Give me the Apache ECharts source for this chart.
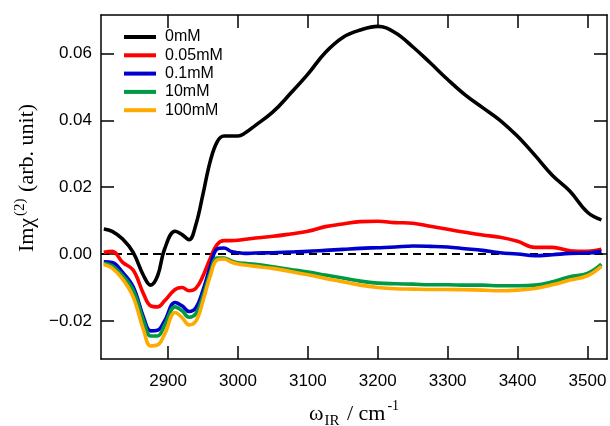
<!DOCTYPE html>
<html>
<head>
<meta charset="utf-8">
<script src="https://cdn.jsdelivr.net/npm/echarts@6/dist/echarts.min.js"></script>
<style>
	html, body { margin: 0; padding: 0; background: #fff; }
	#chart { width: 610px; height: 426px; }
</style>
</head>
<body>
<div id="chart"></div>
<script>
// wavenumber grid (cm-1)
var wn = [2808, 2820, 2835, 2850, 2865, 2875, 2885, 2895, 2910, 2920, 2930, 2940, 2950, 2960, 2970, 2980, 2990, 3000, 3010, 3025,
	3050, 3075, 3100, 3125, 3150, 3175, 3200, 3225, 3250, 3275, 3300, 3325, 3350, 3375, 3400, 3425, 3450, 3475, 3500, 3520];

var c0mM = [0.0075, 0.0068, 0.0045, 0.0005, -0.0065, -0.0093, -0.0065, 0.0015, 0.0068, 0.0058, 0.0043, 0.0090, 0.0180, 0.0275, 0.0335, 0.0353, 0.0353, 0.0353, 0.0362, 0.0385,
	0.0425, 0.0480, 0.0538, 0.0603, 0.0648, 0.0670, 0.0681, 0.0662, 0.0620, 0.0572, 0.0522, 0.0476, 0.0438, 0.0400, 0.0352, 0.0295, 0.0235, 0.0188, 0.0125, 0.0102];
var c005mM = [0.0005, 0.0008, -0.0025, -0.0048, -0.0120, -0.0155, -0.0158, -0.0140, -0.0106, -0.0100, -0.0110, -0.0102, -0.0065, -0.0015, 0.0028, 0.0040, 0.0040, 0.0041, 0.0044, 0.0048,
	0.0053, 0.0060, 0.0068, 0.0082, 0.0090, 0.0097, 0.0098, 0.0094, 0.0092, 0.0083, 0.0074, 0.0065, 0.0057, 0.0050, 0.0038, 0.0020, 0.0020, 0.0010, 0.0008, 0.0014];
var c01mM = [-0.0023, -0.0025, -0.0055, -0.0098, -0.0190, -0.0230, -0.0228, -0.0200, -0.0145, -0.0155, -0.0172, -0.0160, -0.0108, -0.0040, 0.0015, 0.0018, 0.0008, 0.0004, 0.0002, 0.0003,
	0.0004, 0.0006, 0.0008, 0.0011, 0.0014, 0.0017, 0.0019, 0.0021, 0.0024, 0.0023, 0.0021, 0.0016, 0.0011, 0.0004, 0.0000, -0.0005, -0.0002, 0.0002, 0.0003, 0.0008];
var c10mM = [-0.0028, -0.0035, -0.0065, -0.0108, -0.0200, -0.0245, -0.0245, -0.0213, -0.0158, -0.0170, -0.0189, -0.0178, -0.0125, -0.0058, -0.0012, -0.0012, -0.0020, -0.0026, -0.0028, -0.0031,
	-0.0038, -0.0046, -0.0054, -0.0063, -0.0072, -0.0081, -0.0087, -0.0089, -0.0090, -0.0092, -0.0092, -0.0093, -0.0093, -0.0095, -0.0095, -0.0093, -0.0083, -0.0068, -0.0058, -0.0030];
var c100mM = [-0.0031, -0.0042, -0.0075, -0.0128, -0.0228, -0.0275, -0.0272, -0.0240, -0.0175, -0.0190, -0.0212, -0.0200, -0.0140, -0.0068, -0.0018, -0.0015, -0.0024, -0.0030, -0.0033, -0.0037,
	-0.0043, -0.0052, -0.0062, -0.0073, -0.0083, -0.0093, -0.0100, -0.0104, -0.0105, -0.0106, -0.0106, -0.0107, -0.0108, -0.0110, -0.0108, -0.0103, -0.0092, -0.0078, -0.0065, -0.0037];

var seriesNames = ["0mM", "0.05mM", "0.1mM", "10mM", "100mM"];
var seriesColors = ["#000000", "#ff0000", "#0000cc", "#009944", "#ffaa00"];
var xTicks = [2900, 3000, 3100, 3200, 3300, 3400, 3500];
var yTicks = [-0.02, 0.00, 0.02, 0.04, 0.06];

var chart = echarts.init(document.getElementById("chart"));

function pairs(xs, ys) {
	var out = [];
	for(var i = 0; i < xs.length; i++) {
		out.push([xs[i], ys[i]]);
	}
	return out;
}

function makeX(pos, showLabel) {
	return {
		type: "value",
		position: pos,
		min: 2804,
		max: 3528,
		splitLine: { show: false },
		axisLine: { show: true, onZero: false, lineStyle: { color: "#000", width: 1.5 } },
		axisTick: { show: true, inside: true, length: 13, customValues: xTicks, lineStyle: { color: "#000", width: 1.5 } },
		axisLabel: {
			show: showLabel,
			customValues: xTicks,
			margin: 14,
			color: "#000",
			fontFamily: "Liberation Sans",
			fontSize: 17,
			formatter: function(v) {
				return String(v);
			}
		}
	};
}

function makeY(pos, showLabel) {
	return {
		type: "value",
		position: pos,
		min: -0.0314,
		max: 0.0715,
		splitLine: { show: false },
		axisLine: { show: true, onZero: false, lineStyle: { color: "#000", width: 1.5 } },
		axisTick: { show: true, inside: true, length: 13, customValues: yTicks, lineStyle: { color: "#000", width: 1.5 } },
		axisLabel: {
			show: showLabel,
			customValues: yTicks,
			margin: 9,
			color: "#000",
			fontFamily: "Liberation Sans",
			fontSize: 17,
			formatter: function(v) {
				return v.toFixed(2).replace("-", "\u2212");
			}
		}
	};
}

var xBottom = makeX("bottom", true);
xBottom.name = "{a|\u03c9}{sub|IR}{a| / cm}{sup|-1}";
xBottom.nameLocation = "middle";
xBottom.nameGap = 40;
xBottom.nameTextStyle = {
	color: "#000",
	fontFamily: "Liberation Serif",
	rich: {
		a: { fontFamily: "Liberation Serif", fontSize: 22, color: "#000", lineHeight: 30 },
		sub: { fontFamily: "Liberation Serif", fontSize: 15, color: "#000", verticalAlign: "bottom", lineHeight: 20, padding: [0, 2, 0, 1] },
		sup: { fontFamily: "Liberation Serif", fontSize: 14, color: "#000", verticalAlign: "top", lineHeight: 14, padding: [0, 0, 0, 2] }
	}
};

var yLeft = makeY("left", true);
yLeft.name = "{a|Im\u03c7}{sup|(2)}{a| (arb. unit)}";
yLeft.nameLocation = "middle";
yLeft.nameGap = 58;
yLeft.nameTextStyle = {
	color: "#000",
	fontFamily: "Liberation Serif",
	padding: [0, 0, 0, 18],
	rich: {
		a: { fontFamily: "Liberation Serif", fontSize: 22, color: "#000", lineHeight: 30 },
		sup: { fontFamily: "Liberation Serif", fontSize: 15, color: "#000", verticalAlign: "top", lineHeight: 15, padding: [0, 1, 0, 2] }
	}
};

var series = [{
	name: "zero",
	type: "line",
	data: [[2804, 0], [3528, 0]],
	symbol: "none",
	silent: true,
	lineStyle: { color: "#000", width: 2, type: [8, 5] }
}];
var allY = [c0mM, c005mM, c01mM, c10mM, c100mM];
for(var k = 0; k < allY.length; k++) {
	series.push({
		name: seriesNames[k],
		type: "line",
		data: pairs(wn, allY[k]),
		smooth: 0.4,
		symbol: "none",
		color: seriesColors[k],
		lineStyle: { color: seriesColors[k], width: 3.6 }
	});
}

chart.setOption({
	animation: false,
	backgroundColor: "#fff",
	grid: { left: 101, right: 3, top: 15, bottom: 67, outerBoundsMode: "none" },
	legend: {
		data: seriesNames,
		orient: "vertical",
		left: 124,
		top: 28,
		padding: 0,
		icon: "rect",
		itemWidth: 32,
		itemHeight: 4,
		itemGap: 0.3,
		textStyle: { fontFamily: "Liberation Sans", fontSize: 16, color: "#000", lineHeight: 18, padding: [0, 0, 0, 4] }
	},
	xAxis: [xBottom, makeX("top", false)],
	yAxis: [yLeft, makeY("right", false)],
	series: series
});
</script>
</body>
</html>
